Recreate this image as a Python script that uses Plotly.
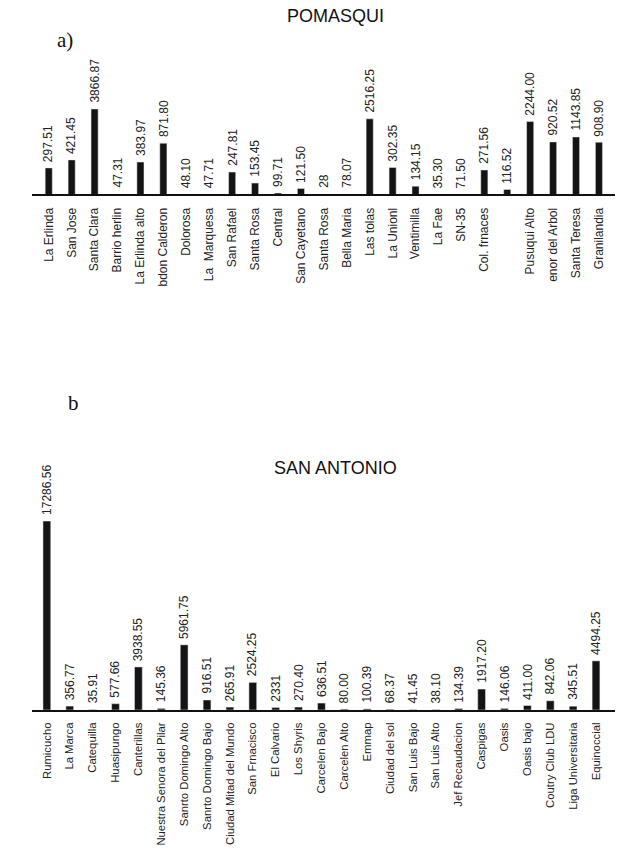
import math
import plotly.graph_objects as go

# ---------------- data ----------------
pom_names = ["La Erlinda", "San Jose", "Santa Clara", "Barrio herlin", "La Erlinda alto",
             "bdon Calderon", "Dolorosa", "La  Marquesa", "San Rafael", "Santa Rosa",
             "Central", "San Cayetano", "Santa Rosa", "Bella Maria", "Las tolas",
             "La Unionl", "Ventimilla", "La Fae", "SN-35", "Col. frnaces", "",
             "Pusuqui Alto", "enor del Arbol", "Santa Teresa", "Granilandia"]
pom_values = [297.51, 421.45, 3866.87, 47.31, 383.97, 871.80, 48.10, 47.71, 247.81, 153.45,
              99.71, 121.50, 28, 78.07, 2516.25, 302.35, 134.15, 35.30, 71.50, 271.56, 116.52,
              2244.00, 920.52, 1143.85, 908.90]
pom_labels = ["297.51", "421.45", "3866.87", "47.31", "383.97", "871.80", "48.10", "47.71",
              "247.81", "153.45", "99.71", "121.50", "28", "78.07", "2516.25", "302.35",
              "134.15", "35.30", "71.50", "271.56", "116.52", "2244.00", "920.52", "1143.85",
              "908.90"]

sa_names = ["Rumicucho", "La Marca", "Catequilla", "Huasipungo", "Canterillas",
            "Nuestra Senora del Pilar", "Sanrto Domingo Alto", "Sanrto Domingo Bajo",
            "Ciudad Mitad del Mundo", "San Frnacisco", "El Calvario", "Los Shyris",
            "Carcelen Bajo", "Carcelen Alto", "Emmap", "Ciudad del sol", "San Luis Bajo",
            "San Luis Alto", "Jef Recaudacion", "Caspigas", "Oasis", "Oasis bajo",
            "Coutry Club LDU", "Liga Universitaria", "Equinoccial"]
sa_values = [17286.56, 356.77, 35.91, 577.66, 3938.55, 145.36, 5961.75, 916.51, 265.91,
             2524.25, 233.1, 270.40, 636.51, 80.00, 100.39, 68.37, 41.45, 38.10, 134.39,
             1917.20, 146.06, 411.00, 842.06, 345.51, 4494.25]
sa_labels = ["17286.56", "356.77", "35.91", "577.66", "3938.55", "145.36", "5961.75",
             "916.51", "265.91", "2524.25", "2331", "270.40", "636.51", "80.00", "100.39",
             "68.37", "41.45", "38.10", "134.39", "1917.20", "146.06", "411.00", "842.06",
             "345.51", "4494.25"]

# ---------------- figure ----------------
W, H = 621, 853
POM_FLOOR = 1.98          # log10 lower bound of top axis
POM_TOP = 4.57
SA_MAX = 22600

fig = go.Figure()
pom_x = list(range(len(pom_values)))
sa_x = list(range(len(sa_values)))

fig.add_trace(go.Bar(x=pom_x, y=pom_values, width=0.31, marker_color="#141414",
                     xaxis="x", yaxis="y", hoverinfo="skip", showlegend=False))
fig.add_trace(go.Bar(x=sa_x, y=sa_values, width=0.34, marker_color="#141414",
                     xaxis="x2", yaxis="y2", hoverinfo="skip", showlegend=False))

lab_font = dict(family="Liberation Sans, Arial, sans-serif", size=12, color="#222")
ann = []
for xi, v, t in zip(pom_x, pom_values, pom_labels):
    yv = max(math.log10(v), POM_FLOOR)
    ann.append(dict(x=xi, y=yv, xref="x", yref="y", text=t, textangle=-90,
                    showarrow=False, yanchor="bottom", xanchor="center",
                    yshift=4, font=lab_font))
for xi, v, t in zip(sa_x, sa_values, sa_labels):
    ann.append(dict(x=xi, y=v, xref="x2", yref="y2", text=t, textangle=-90,
                    showarrow=False, yanchor="bottom", xanchor="center",
                    yshift=4, font=lab_font))

title_font = dict(family="Liberation Sans, Arial, sans-serif", size=18, color="#111")
serif_font = dict(family="Liberation Serif, DejaVu Serif, serif", size=21, color="#111")
ann += [
    dict(x=323 / W, y=1 - 16 / H, xref="paper", yref="paper", text="POMASQUI",
         showarrow=False, xanchor="center", yanchor="middle", font=title_font),
    dict(x=323 / W, y=1 - 468 / H, xref="paper", yref="paper", text="SAN ANTONIO",
         showarrow=False, xanchor="center", yanchor="middle", font=title_font),
    dict(x=25 / W, y=1 - 40 / H, xref="paper", yref="paper", text="a)",
         showarrow=False, xanchor="left", yanchor="middle", font=serif_font),
    dict(x=36 / W, y=1 - 403 / H, xref="paper", yref="paper", text="b",
         showarrow=False, xanchor="left", yanchor="middle", font=serif_font),
]

tick_font = dict(family="Liberation Sans, Arial, sans-serif", size=12, color="#222")
tick_font2 = dict(family="Liberation Sans, Arial, sans-serif", size=11.3, color="#222")
ml, mr = 32, 6

fig.update_layout(
    width=W, height=H,
    margin=dict(l=ml, r=mr, t=0, b=0),
    paper_bgcolor="white", plot_bgcolor="white",
    showlegend=False,
    annotations=ann,
    xaxis=dict(domain=[0, 1], range=[-0.73, 24.70], tickmode="array",
               tickvals=pom_x, ticktext=pom_names, tickangle=-90, tickfont=tick_font,
               showline=True, linecolor="#111", linewidth=2, showgrid=False,
               zeroline=False, ticks="outside", ticklen=7, tickcolor="rgba(0,0,0,0)",
               anchor="y", automargin=False, fixedrange=True),
    yaxis=dict(domain=[1 - 194 / H, 1 - 57 / H], type="log", range=[POM_FLOOR, POM_TOP],
               visible=False, showgrid=False, anchor="x", fixedrange=True),
    xaxis2=dict(domain=[0, 1], range=[-0.65, 24.83], tickmode="array",
                tickvals=sa_x, ticktext=sa_names, tickangle=-90, tickfont=tick_font2,
                showline=True, linecolor="#111", linewidth=2, showgrid=False,
                zeroline=False, ticks="outside", ticklen=6, tickcolor="rgba(0,0,0,0)",
                anchor="y2", automargin=False, fixedrange=True),
    yaxis2=dict(domain=[1 - 710 / H, 1 - 463 / H], range=[0, SA_MAX],
                visible=False, showgrid=False, anchor="x2", fixedrange=True),
)

fig.write_html("out.html", config={"displayModeBar": False},
               post_script="document.body.style.margin='0';")
